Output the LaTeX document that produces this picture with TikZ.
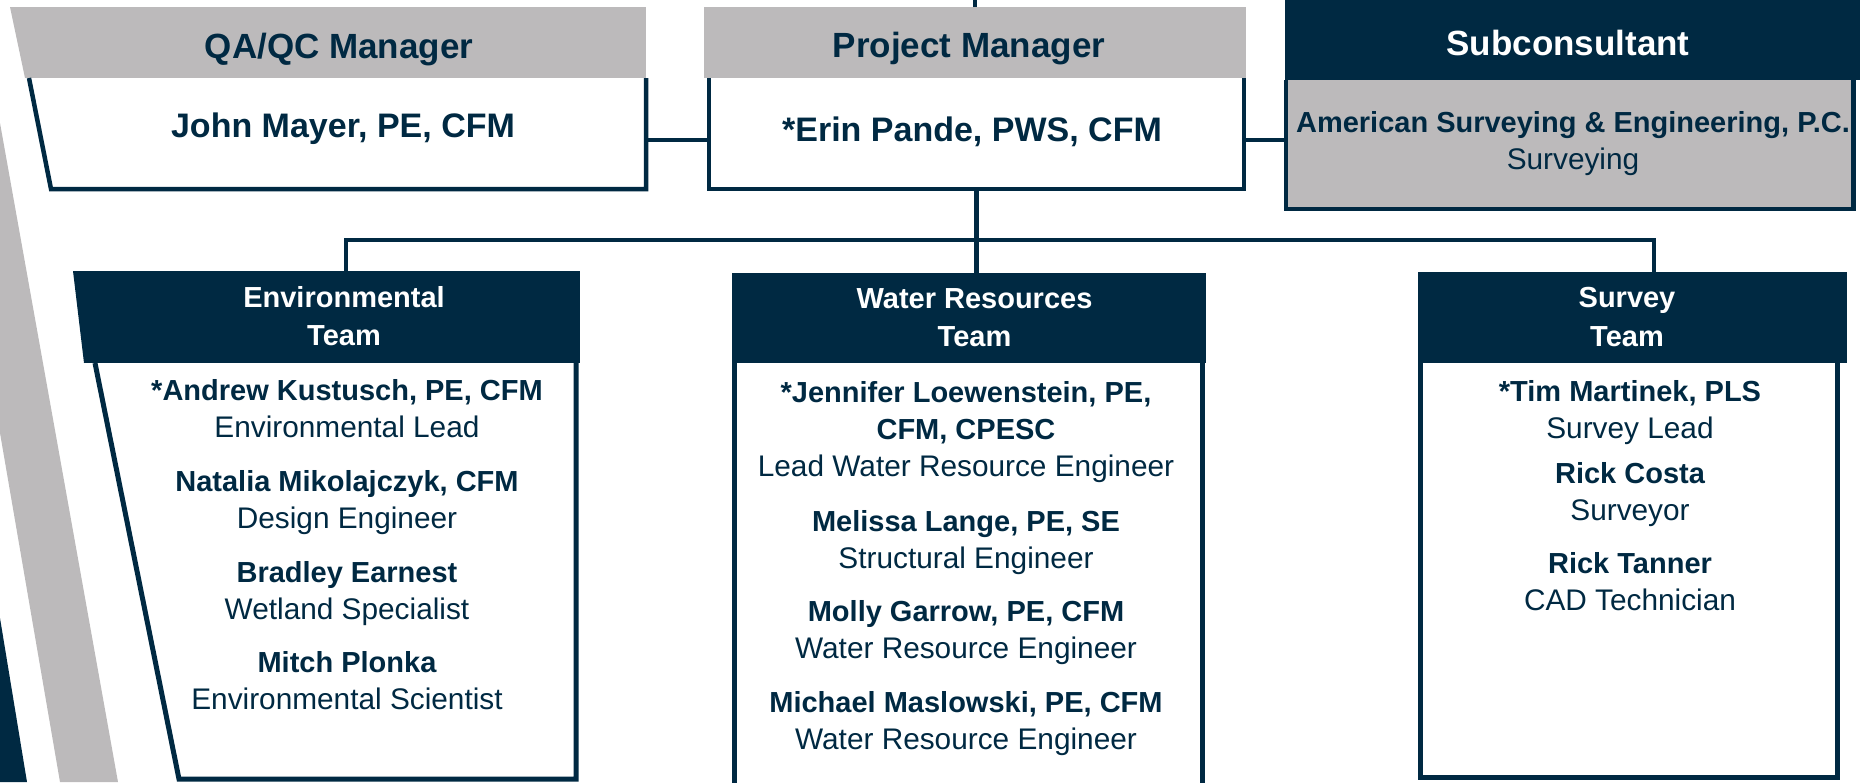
\documentclass[tikz,border=0pt]{standalone}
\usepackage{fontspec}
\setmainfont{Liberation Sans}
\usepackage{xcolor}
\usetikzlibrary{positioning}

\definecolor{navy}{RGB}{0,41,66}
\definecolor{bargray}{RGB}{188,186,187}
\newcommand{\capstrut}{\rule{0pt}{22pt}}
\newcommand{\who}[1]{{\fontsize{29}{37}\selectfont\bfseries #1}}

\tikzset{
  link/.style={draw=navy, line width=4.5pt},
  boxline/.style={draw=navy, line width=4.5pt},
  teamline/.style={draw=navy, line width=5pt},
  area/.style={inner sep=0pt, outer sep=0pt, anchor=north west},
  graybar/.style={area, fill=bargray},
  navybar/.style={area, fill=navy},
  headtext/.style={anchor=base, text=navy, inner sep=0pt, font=\fontsize{35}{42}\selectfont\bfseries},
  leadtext/.style={anchor=base, text=navy, inner sep=0pt, font=\fontsize{34}{41}\selectfont\bfseries},
  teamtext/.style={anchor=north, align=center, text=white, inner sep=0pt, font=\fontsize{29}{38.5}\selectfont\bfseries},
  person/.style={anchor=north, align=center, text=navy, inner sep=0pt, font=\fontsize{29.8}{37}\selectfont},
}

\begin{document}
\begin{tikzpicture}[x=1pt, y=-1pt]
  \useasboundingbox (0,0) rectangle (1865,782);

  % stripes at the left edge
  \fill[bargray] (0,123) -- (118,782) -- (60,782) -- (0,433) -- cycle;
  \fill[navy] (0,618) -- (27,782) -- (0,782) -- cycle;

  % top row
  \node[graybar, minimum width=621pt, minimum height=71pt] (qahead) at (25,7) {};
  \fill[bargray] (10,7) -- (qahead.north west) -- (qahead.south west) -- cycle;
  \node[area, minimum width=595pt, minimum height=111pt] (qa) at (51,78) {};
  \draw[boxline] (29,78) -- (qa.south west) -- (qa.south east) -- (qa.north east);

  \node[graybar, minimum width=542pt, minimum height=71pt] (pmhead) at (704,7) {};
  \node[area, minimum width=535pt, minimum height=111pt] (pm) at (709,78) {};
  \draw[boxline] (pm.north west) -- (pm.south west) -- (pm.south east) -- (pm.north east);

  \node[navybar, minimum width=575pt, minimum height=80pt] (subhead) at (1285,0) {};
  \node[area, fill=bargray, minimum width=567.5pt, minimum height=129pt] (sub) at (1286,80) {};
  \draw[boxline] (sub.north west) -- (sub.south west) -- (sub.south east) -- (sub.north east);

  \draw[link] (pmhead.north) -- ++(0,-10);
  \coordinate (tie) at ([yshift=-6.5pt]pm.west);
  \draw[link] (qa.east |- tie) -- (pm.west |- tie);
  \draw[link] (pm.east |- tie) -- (sub.west |- tie);

  \node[headtext] (qatitle) at (339,58) {QA/QC Manager};
  \node[headtext] (pmtitle) at (969,57) {Project Manager};
  \node[headtext, text=white] (subtitle) at (1568,55) {Subconsultant};
  \node[leadtext] (qaname) at (343,137) {John Mayer, PE, CFM};
  \node[leadtext] (pmname) at (972,141.5) {*Erin Pande, PWS, CFM};
  \node[person] (subfirm) at (1573,110) {\capstrut\who{American Surveying \& Engineering, P.C.}\\Surveying};

  % teams
  \node[navybar, minimum width=496pt, minimum height=92pt] (envhead) at (84,271) {};
  \fill[navy] (73,271) -- (envhead.north west) -- (envhead.south west) -- cycle;
  \draw[teamline] (95,363) -- (179,779) -- (576,779) -- (576,363);

  \node[navybar, minimum width=474pt, minimum height=90pt] (waterhead) at (732,273) {};
  \draw[teamline] (734,363) -- (734,790) (1202,363) -- (1202,790);

  \node[navybar, minimum width=429pt, minimum height=91pt] (surveyhead) at (1418,272) {};
  \draw[teamline] (1420,363) -- (1420,777.5) -- (1837.5,777.5) -- (1837.5,363);

  \coordinate (bus) at ([yshift=-51pt]pm.south);
  \draw[link] (pm.south) -- (pm.south |- waterhead.north);
  \draw[link] ([xshift=14pt]envhead.north) |- (bus) -| ([xshift=21.5pt]surveyhead.north);

  \node[teamtext] (envtitle) at (344,285) {\capstrut Environmental\\Team};
  \node[teamtext] (watertitle) at (974.5,286) {\capstrut Water Resources\\Team};
  \node[teamtext] (surveytitle) at (1627,285.5) {\capstrut Survey\\Team};

  % environmental team
  \node[person] (andrew) at (347,378.5) {\capstrut\who{*Andrew Kustusch, PE, CFM}\\Environmental Lead};
  \node[person] (natalia) at (347,469) {\capstrut\who{Natalia Mikolajczyk, CFM}\\Design Engineer};
  \node[person] (bradley) at (347,560) {\capstrut\who{Bradley Earnest}\\Wetland Specialist};
  \node[person] (mitch) at (347,650) {\capstrut\who{Mitch Plonka}\\Environmental Scientist};

  % water resources team
  \node[person] (jennifer) at (966,380.5) {\capstrut\who{*Jennifer Loewenstein, PE,}\\\who{CFM, CPESC}\\Lead Water Resource Engineer};
  \node[person] (melissa) at (966,509) {\capstrut\who{Melissa Lange, PE, SE}\\Structural Engineer};
  \node[person] (molly) at (966,599) {\capstrut\who{Molly Garrow, PE, CFM}\\Water Resource Engineer};
  \node[person] (michael) at (966,690) {\capstrut\who{Michael Maslowski, PE, CFM}\\Water Resource Engineer};

  % survey team
  \node[person] (tim) at (1630,379) {\capstrut\who{*Tim Martinek, PLS}\\Survey Lead};
  \node[person] (rickc) at (1630,461) {\capstrut\who{Rick Costa}\\Surveyor};
  \node[person] (rickt) at (1630,551) {\capstrut\who{Rick Tanner}\\CAD Technician};
\end{tikzpicture}
\end{document}
